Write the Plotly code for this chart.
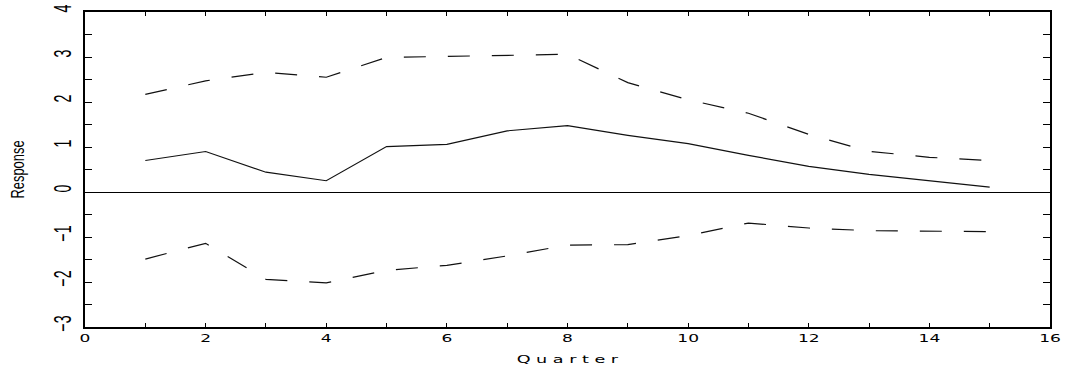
import plotly.graph_objects as go

quarters = list(range(1, 16))
response = [0.70, 0.90, 0.44, 0.25, 1.01, 1.06, 1.36, 1.475, 1.26, 1.075, 0.815, 0.57, 0.39, 0.245, 0.11]
upper = [2.17, 2.47, 2.66, 2.55, 2.99, 3.01, 3.03, 3.06, 2.43, 2.05, 1.75, 1.28, 0.905, 0.77, 0.70]
lower = [-1.49, -1.14, -1.94, -2.02, -1.74, -1.63, -1.42, -1.18, -1.17, -0.97, -0.69, -0.80, -0.86, -0.87, -0.88]

x_tickvals = list(range(0, 17, 2))
x_ticktext = ["0", "2", "4", "6", "8", "10", "12", "14", "16"]
y_tickvals = [v / 2 for v in range(-6, 9)]
y_ticktext = ["\u22123", "", "\u22122", "", "\u22121", "", "0", "", "1", "", "2", "", "3", "", "4"]

SANS = "Liberation Sans, Arial, sans-serif"
WIDE = "DejaVu Sans, sans-serif"

fig = go.Figure()
fig.add_trace(go.Scatter(x=quarters, y=upper, mode="lines",
                         line=dict(color="#111", width=1.2, dash="22px,22px"), showlegend=False))
fig.add_trace(go.Scatter(x=quarters, y=lower, mode="lines",
                         line=dict(color="#111", width=1.2, dash="22px,22px"), showlegend=False))
fig.add_trace(go.Scatter(x=quarters, y=response, mode="lines",
                         line=dict(color="#111", width=1.2), showlegend=False))

fig.update_layout(
    width=1072, height=375,
    margin=dict(l=85, r=22, t=12, b=48, autoexpand=False),
    paper_bgcolor="white", plot_bgcolor="white",
    xaxis=dict(range=[0, 16], tickvals=x_tickvals, ticktext=x_ticktext,
               automargin=False,
               showgrid=False, zeroline=False,
               showline=True, linecolor="black", linewidth=2, mirror="ticks",
               ticks="inside", ticklen=4, tickwidth=1, tickcolor="black",
               minor=dict(dtick=1, ticks="inside", ticklen=4, tickcolor="black", tickwidth=1),
               tickfont=dict(family=WIDE, size=11, color="black"),
               title=dict(text="Q u a r t e r",
                          font=dict(family=WIDE, size=11, color="black"), standoff=11)),
    yaxis=dict(range=[-3, 4], tickvals=y_tickvals, ticktext=y_ticktext,
               automargin=False,
               showgrid=False, zeroline=True, zerolinecolor="black", zerolinewidth=1,
               showline=True, linecolor="black", linewidth=2, mirror="ticks",
               ticks="inside", ticklen=7, tickwidth=1, tickcolor="black",
               tickangle=-90, ticklabelstandoff=3,
               tickfont=dict(family=SANS, size=23, color="black"),
               title=dict(text="Response",
                          font=dict(family=SANS, size=19, color="black"), standoff=20)),
)

post = """
document.body.style.margin = '0';
function squeeze(sel, s) {
  document.querySelectorAll(sel).forEach(function (t) {
    var b = t.getBBox();
    if (!b.width) return;
    var cx = b.x + b.width / 2, cy = b.y + b.height / 2;
    var tr = t.getAttribute('transform') || '';
    t.setAttribute('transform', tr + ' translate(' + cx + ',' + cy + ') scale(' + s + ',1) translate(' + (-cx) + ',' + (-cy) + ')');
  });
}
squeeze('.ytick text', 0.62);
squeeze('text.ytitle', 0.68);
squeeze('.xtick text', 1.55);
squeeze('text.xtitle', 1.6);
"""

fig.write_html("out.html", post_script=post, config={"displayModeBar": False})
